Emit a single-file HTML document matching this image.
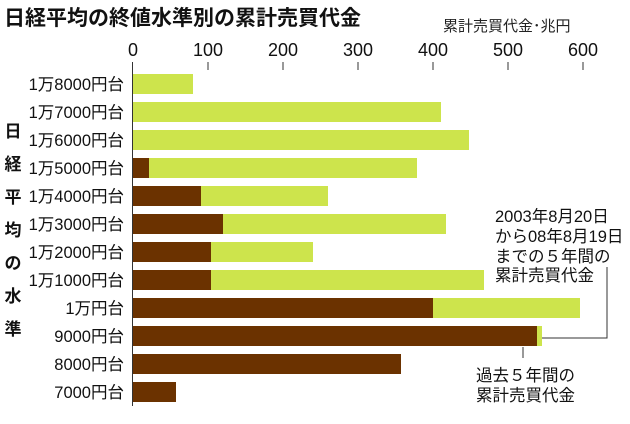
<!DOCTYPE html><html><head><meta charset="utf-8"><style>
body{margin:0;background:#fff;width:630px;height:419px;overflow:hidden;font-family:"Liberation Sans","Noto Sans CJK JP",sans-serif;}
</style></head><body>
<svg width="630" height="419" xmlns="http://www.w3.org/2000/svg" font-family="Liberation Sans, Noto Sans CJK JP, sans-serif">
<text x="4" y="25" font-size="21" font-weight="bold" fill="#111">日経平均の終値水準別の累計売買代金</text>
<text x="443" y="31" font-size="15" fill="#222">累計売買代金･兆円</text>
<g font-size="18" fill="#111" text-anchor="middle">
<text x="133" y="56">0</text><text x="208" y="56">100</text><text x="283" y="56">200</text><text x="358" y="56">300</text><text x="433" y="56">400</text><text x="508" y="56">500</text><text x="583" y="56">600</text>
</g>
<g stroke="#333" stroke-width="1">
<line x1="132.5" y1="62" x2="132.5" y2="406"/>
<line x1="208" y1="62" x2="208" y2="70"/><line x1="283" y1="62" x2="283" y2="70"/><line x1="358" y1="62" x2="358" y2="70"/><line x1="433" y1="62" x2="433" y2="70"/><line x1="508" y1="62" x2="508" y2="70"/><line x1="583" y1="62" x2="583" y2="70"/>
</g>
<g fill="#cde44c">
<rect x="133" y="74" width="60" height="20"/>
<rect x="133" y="102" width="308" height="20"/>
<rect x="133" y="130" width="336" height="20"/>
<rect x="133" y="158" width="284" height="20"/>
<rect x="133" y="186" width="195" height="20"/>
<rect x="133" y="214" width="313" height="20"/>
<rect x="133" y="242" width="180" height="20"/>
<rect x="133" y="270" width="351" height="20"/>
<rect x="133" y="298" width="447" height="20"/>
<rect x="133" y="326" width="409" height="20"/>
</g>
<g fill="#6b3200">
<rect x="133" y="158" width="16" height="20"/>
<rect x="133" y="186" width="68" height="20"/>
<rect x="133" y="214" width="90" height="20"/>
<rect x="133" y="242" width="78" height="20"/>
<rect x="133" y="270" width="78" height="20"/>
<rect x="133" y="298" width="300" height="20"/>
<rect x="133" y="326" width="404" height="20"/>
<rect x="133" y="354" width="268" height="20"/>
<rect x="133" y="382" width="43" height="20"/>
</g>
<g font-size="16.5" fill="#111" text-anchor="end">
<text x="124" y="90">1万8000円台</text>
<text x="124" y="118">1万7000円台</text>
<text x="124" y="146">1万6000円台</text>
<text x="124" y="174">1万5000円台</text>
<text x="124" y="202">1万4000円台</text>
<text x="124" y="230">1万3000円台</text>
<text x="124" y="258">1万2000円台</text>
<text x="124" y="286">1万1000円台</text>
<text x="124" y="314">1万円台</text>
<text x="124" y="342">9000円台</text>
<text x="124" y="370">8000円台</text>
<text x="124" y="398">7000円台</text>
</g>
<g font-size="17" font-weight="bold" fill="#111" text-anchor="middle">
<text x="13" y="137">日</text><text x="13" y="170">経</text><text x="13" y="203">平</text><text x="13" y="236">均</text><text x="13" y="269">の</text><text x="13" y="302">水</text><text x="13" y="335">準</text>
</g>
<g stroke="#333" stroke-width="1" fill="none">
<polyline points="542,338 607,338 607,267"/>
<line x1="523" y1="347" x2="523" y2="358"/>
</g>
<g font-size="16.5" fill="#111">
<text x="495" y="222">2003年8月20日</text>
<text x="495" y="242">から08年8月19日</text>
<text x="495" y="262">までの５年間の</text>
<text x="495" y="281">累計売買代金</text>
<text x="476" y="381">過去５年間の</text>
<text x="476" y="401">累計売買代金</text>
</g>
</svg>
</body></html>
